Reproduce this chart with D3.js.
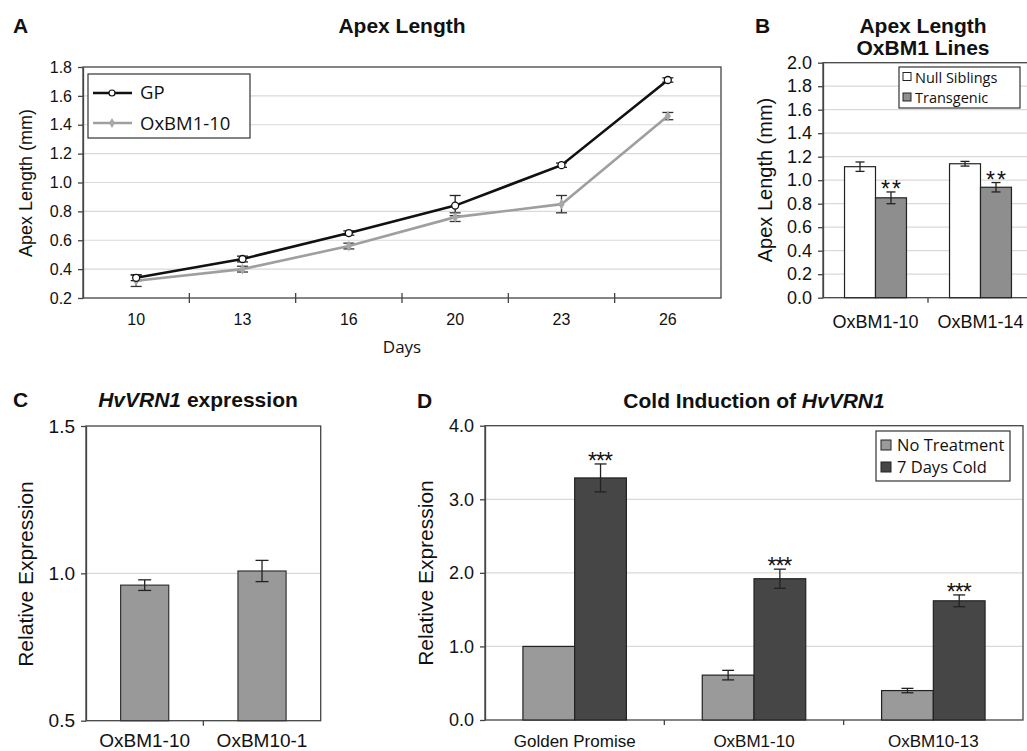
<!DOCTYPE html>
<html>
<head>
<meta charset="utf-8">
<script src="https://cdn.jsdelivr.net/npm/d3@7"></script>
<style>
    body { margin: 0; background: #fff; }
    svg text { font-family: "Liberation Sans", Arial, sans-serif; fill: #111; }
    svg text.soft { font-family: "Open Sans", "Noto Sans", sans-serif; }
</style>
</head>
<body>
<svg id="figure" width="1027" height="751"></svg>
<script>
// Panel A: apex length over time
const days = ["10", "13", "16", "20", "23", "26"];
const gpLength = [0.34, 0.47, 0.65, 0.84, 1.12, 1.71];
const gpError = [0.02, 0.02, 0.015, 0.07, 0.015, 0.015];
const oxLength = [0.32, 0.40, 0.56, 0.76, 0.85, 1.46];
const oxError = [0.04, 0.02, 0.02, 0.03, 0.06, 0.025];
const apexTicks = [0.2, 0.4, 0.6, 0.8, 1.0, 1.2, 1.4, 1.6, 1.8];

// Panel B: apex length for OxBM1 lines
const bLines = ["OxBM1-10", "OxBM1-14"];
const nullSiblings = [1.115, 1.14];
const nullError = [0.04, 0.02];
const transgenic = [0.85, 0.94];
const transgenicError = [0.05, 0.04];
const bTicks = [0, 0.2, 0.4, 0.6, 0.8, 1.0, 1.2, 1.4, 1.6, 1.8, 2.0];

// Panel C: HvVRN1 expression
const cLines = ["OxBM1-10", "OxBM10-1"];
const cExpression = [0.96, 1.008];
const cError = [0.018, 0.036];
const cTicks = [0.5, 1.0, 1.5];

// Panel D: cold induction of HvVRN1
const dLines = ["Golden Promise", "OxBM1-10", "OxBM10-13"];
const noTreatment = [1.0, 0.61, 0.40];
const noTreatmentError = [0, 0.065, 0.03];
const sevenDaysCold = [3.29, 1.92, 1.62];
const sevenDaysColdError = [0.19, 0.13, 0.08];
const dTicks = [0, 1, 2, 3, 4];

const svg = d3.select("#figure");
const axisColor = "#444";
const gridColor = "#d9d9d9";

// ---------- helpers ----------
function drawGrid(g, x, y, values) {
    const [xa, xb] = x.range();
    g.selectAll(null).data(values).enter().append("line")
        .attr("x1", xa).attr("x2", xb)
        .attr("y1", d => y(d)).attr("y2", d => y(d))
        .attr("stroke", gridColor).attr("stroke-width", 1.2);
}

function drawFrame(g, x, y) {
    const [xa, xb] = x.range();
    const [ya, yb] = y.range();
    g.append("rect")
        .attr("x", xa).attr("y", yb)
        .attr("width", xb - xa).attr("height", ya - yb)
        .attr("fill", "none")
        .attr("stroke", axisColor)
        .attr("stroke-width", 1.3);
}

function drawYAxis(g, x, y, values, fontSize) {
    const axis = g.append("g")
        .attr("transform", `translate(${x.range()[0]},0)`)
        .call(d3.axisLeft(y).tickValues(values).tickFormat(d3.format(".1f"))
            .tickSize(5).tickSizeOuter(0).tickPadding(6));
    axis.selectAll("path, line").attr("stroke", axisColor).attr("stroke-width", 1.3);
    axis.selectAll("text").style("font-size", fontSize + "px");
}

function drawXAxis(g, x, y, fontSize, labelY, tickUp) {
    const bottom = y.range()[0];
    const half = (x.step() - x.bandwidth()) / 2;
    g.selectAll(null).data(x.domain().slice(1)).enter().append("line")
        .attr("x1", d => x(d) - half).attr("x2", d => x(d) - half)
        .attr("y1", bottom - tickUp).attr("y2", bottom + 5)
        .attr("stroke", axisColor).attr("stroke-width", 1.3);
    g.selectAll(null).data(x.domain()).enter().append("text")
        .attr("x", d => x(d) + x.bandwidth() / 2)
        .attr("y", labelY)
        .attr("text-anchor", "middle")
        .style("font-size", fontSize + "px")
        .text(d => d);
}

function drawErrorBars(g, xs, y, values, errors, cap, color) {
    values.forEach((v, i) => {
        if (!errors[i]) return;
        const cx = xs[i];
        const top = y(v + errors[i]);
        const bot = y(v - errors[i]);
        g.append("line").attr("x1", cx).attr("x2", cx).attr("y1", top).attr("y2", bot)
            .attr("stroke", color).attr("stroke-width", 1.3);
        [top, bot].forEach(yy => {
            g.append("line").attr("x1", cx - cap / 2).attr("x2", cx + cap / 2)
                .attr("y1", yy).attr("y2", yy)
                .attr("stroke", color).attr("stroke-width", 1.3);
        });
    });
}

function drawStars(g, xs, y, values, errors, label, spacing) {
    values.forEach((v, i) => {
        g.append("text")
            .attr("x", xs[i] + spacing / 2)
            .attr("y", y(v + errors[i]) + 5)
            .attr("text-anchor", "middle")
            .style("font-size", "23px")
            .style("letter-spacing", spacing + "px")
            .text(label);
    });
}

function drawTitle(x, y, parts) {
    const t = svg.append("text")
        .attr("x", x).attr("y", y)
        .attr("text-anchor", "middle")
        .style("font-size", "21px")
        .style("font-weight", "bold");
    parts.forEach(p => {
        t.append("tspan").style("font-style", p.italic ? "italic" : "normal").text(p.text);
    });
}

function drawPanelLetter(x, y, letter) {
    svg.append("text").attr("x", x).attr("y", y)
        .style("font-size", "21px").style("font-weight", "bold").text(letter);
}

function drawYLabel(x, cy, label, fontSize) {
    svg.append("text")
        .attr("transform", `translate(${x},${cy}) rotate(-90)`)
        .attr("text-anchor", "middle")
        .style("font-size", fontSize + "px")
        .text(label);
}

// ---------- Panel A ----------
(function panelA() {
    const g = svg.append("g");
    const x = d3.scaleBand().domain(days).range([83, 721]).padding(0);
    const y = d3.scaleLinear().domain([0.2, 1.8]).range([298, 67]);
    const cx = days.map(d => x(d) + x.bandwidth() / 2);

    drawGrid(g, x, y, apexTicks.slice(1, -1));
    drawFrame(g, x, y);
    drawYAxis(g, x, y, apexTicks, 16);
    drawXAxis(g, x, y, 16, 325, 5);

    const line = d3.line().x((d, i) => cx[i]).y(d => y(d));

    drawErrorBars(g, cx, y, oxLength, oxError, 11, "#333");
    drawErrorBars(g, cx, y, gpLength, gpError, 11, "#222");

    g.append("path").datum(oxLength).attr("d", line)
        .attr("fill", "none").attr("stroke", "#9f9f9f").attr("stroke-width", 2.6);
    g.append("path").datum(gpLength).attr("d", line)
        .attr("fill", "none").attr("stroke", "#111").attr("stroke-width", 2.6);

    g.selectAll(null).data(oxLength).enter().append("path")
        .attr("transform", (d, i) => `translate(${cx[i]},${y(d)})`)
        .attr("d", d3.symbol(d3.symbolDiamond, 34))
        .attr("fill", "#a8a8a8");
    g.selectAll(null).data(gpLength).enter().append("circle")
        .attr("cx", (d, i) => cx[i]).attr("cy", d => y(d)).attr("r", 3.5)
        .attr("fill", "#fff").attr("stroke", "#111").attr("stroke-width", 1.3);

    // legend
    const lg = g.append("g");
    lg.append("rect").attr("x", 88).attr("y", 74).attr("width", 162).attr("height", 64)
        .attr("fill", "#fff").attr("stroke", "#333").attr("stroke-width", 1.2);
    lg.append("line").attr("x1", 93).attr("x2", 132).attr("y1", 93).attr("y2", 93)
        .attr("stroke", "#111").attr("stroke-width", 2.6);
    lg.append("circle").attr("cx", 112).attr("cy", 93).attr("r", 3)
        .attr("fill", "#fff").attr("stroke", "#111").attr("stroke-width", 1.2);
    lg.append("line").attr("x1", 93).attr("x2", 132).attr("y1", 123).attr("y2", 123)
        .attr("stroke", "#9f9f9f").attr("stroke-width", 2.6);
    lg.append("path").attr("transform", "translate(112,123)")
        .attr("d", d3.symbol(d3.symbolDiamond, 30)).attr("fill", "#a8a8a8");
    lg.append("text").attr("class", "soft").attr("x", 140).attr("y", 99)
        .style("font-size", "18.5px").text("GP");
    lg.append("text").attr("class", "soft").attr("x", 140).attr("y", 129.5)
        .style("font-size", "18.5px").text("OxBM1-10");

    svg.append("text").attr("class", "soft")
        .attr("x", 402).attr("y", 353).attr("text-anchor", "middle")
        .style("font-size", "17px").text("Days");
    drawYLabel(32, 183, "Apex Length (mm)", 18);
    drawTitle(402, 33, [{ text: "Apex Length" }]);
    drawPanelLetter(13, 33, "A");
})();

// ---------- Panel B ----------
(function panelB() {
    const g = svg.append("g");
    const x0 = d3.scaleBand().domain(bLines).range([823, 1033])
        .paddingInner(0.41).paddingOuter(0.205);
    const x1 = d3.scaleBand().domain(["null", "trans"]).range([0, x0.bandwidth()]);
    const y = d3.scaleLinear().domain([0, 2]).range([297.7, 62.7]);

    drawGrid(g, x0, y, bTicks.slice(1, -1));
    drawFrame(g, x0, y);

    const series = [
        { key: "null", values: nullSiblings, errors: nullError, fill: "#fff" },
        { key: "trans", values: transgenic, errors: transgenicError, fill: "#8e8e8e" }
    ];
    series.forEach(s => {
        g.selectAll(null).data(bLines).enter().append("rect")
            .attr("x", d => x0(d) + x1(s.key))
            .attr("y", (d, i) => y(s.values[i]))
            .attr("width", x1.bandwidth())
            .attr("height", (d, i) => y(0) - y(s.values[i]))
            .attr("fill", s.fill).attr("stroke", "#222").attr("stroke-width", 1.2);
        const cx = bLines.map(d => x0(d) + x1(s.key) + x1.bandwidth() / 2);
        drawErrorBars(g, cx, y, s.values, s.errors, 9, "#222");
    });
    const tx = bLines.map(d => x0(d) + x1("trans") + x1.bandwidth() / 2);
    drawStars(g, tx, y, transgenic, transgenicError, "**", 2);

    drawYAxis(g, x0, y, bTicks, 18);
    drawXAxis(g, x0, y, 18, 328, 0);

    // legend
    const lg = g.append("g");
    lg.append("rect").attr("x", 899).attr("y", 67).attr("width", 121).attr("height", 41)
        .attr("fill", "#fff").attr("stroke", "#333").attr("stroke-width", 1.2);
    [["Null Siblings", "#fff", 82.5], ["Transgenic", "#8e8e8e", 103]].forEach(([label, fill, by]) => {
        lg.append("rect").attr("x", 903).attr("y", by - 10).attr("width", 8).attr("height", 8)
            .attr("fill", fill).attr("stroke", "#222").attr("stroke-width", 1);
        lg.append("text").attr("class", "soft").attr("x", 915).attr("y", by)
            .style("font-size", "14.5px").text(label);
    });

    drawYLabel(772, 180, "Apex Length (mm)", 20);
    drawTitle(923, 33, [{ text: "Apex Length" }]);
    drawTitle(923, 55, [{ text: "OxBM1 Lines" }]);
    drawPanelLetter(755, 33, "B");
})();

// ---------- Panel C ----------
(function panelC() {
    const g = svg.append("g");
    const x = d3.scaleBand().domain(cLines).range([86, 320.7])
        .paddingInner(0.59).paddingOuter(0.295);
    const y = d3.scaleLinear().domain([0.5, 1.5]).range([720.7, 426]);
    const cx = cLines.map(d => x(d) + x.bandwidth() / 2);

    drawGrid(g, x, y, [1.0]);
    drawFrame(g, x, y);

    g.selectAll(null).data(cExpression).enter().append("rect")
        .attr("x", (d, i) => x(cLines[i]))
        .attr("y", d => y(d))
        .attr("width", x.bandwidth())
        .attr("height", d => y(0.5) - y(d))
        .attr("fill", "#999").attr("stroke", "#333").attr("stroke-width", 1.2);
    drawErrorBars(g, cx, y, cExpression, cError, 13, "#222");

    drawYAxis(g, x, y, cTicks, 19);
    drawXAxis(g, x, y, 19, 747, 0);

    drawYLabel(33, 574, "Relative Expression", 21);
    drawTitle(198, 407, [{ text: "HvVRN1", italic: true }, { text: " expression" }]);
    drawPanelLetter(13, 407, "C");
})();

// ---------- Panel D ----------
(function panelD() {
    const g = svg.append("g");
    const x0 = d3.scaleBand().domain(dLines).range([485, 1023])
        .paddingInner(0.423).paddingOuter(0.2115);
    const x1 = d3.scaleBand().domain(["none", "cold"]).range([0, x0.bandwidth()]);
    const y = d3.scaleLinear().domain([0, 4]).range([720, 425.7]);

    drawGrid(g, x0, y, dTicks.slice(1, -1));
    drawFrame(g, x0, y);

    const series = [
        { key: "none", values: noTreatment, errors: noTreatmentError, fill: "#9a9a9a" },
        { key: "cold", values: sevenDaysCold, errors: sevenDaysColdError, fill: "#464646" }
    ];
    series.forEach(s => {
        g.selectAll(null).data(dLines).enter().append("rect")
            .attr("x", d => x0(d) + x1(s.key))
            .attr("y", (d, i) => y(s.values[i]))
            .attr("width", x1.bandwidth())
            .attr("height", (d, i) => y(0) - y(s.values[i]))
            .attr("fill", s.fill).attr("stroke", "#222").attr("stroke-width", 1.2);
        const cx = dLines.map(d => x0(d) + x1(s.key) + x1.bandwidth() / 2);
        drawErrorBars(g, cx, y, s.values, s.errors, 12, "#222");
    });
    const tx = dLines.map(d => x0(d) + x1("cold") + x1.bandwidth() / 2);
    drawStars(g, tx, y, sevenDaysCold, sevenDaysColdError, "***", -1);

    drawYAxis(g, x0, y, dTicks, 18);
    drawXAxis(g, x0, y, 17, 747, 0);

    // legend
    const lg = g.append("g");
    lg.append("rect").attr("x", 876).attr("y", 431).attr("width", 134).attr("height", 50)
        .attr("fill", "#fff").attr("stroke", "#333").attr("stroke-width", 1.2);
    [["No Treatment", "#9a9a9a", 451], ["7 Days Cold", "#464646", 473]].forEach(([label, fill, by]) => {
        lg.append("rect").attr("x", 881).attr("y", by - 11).attr("width", 10).attr("height", 10)
            .attr("fill", fill).attr("stroke", "#222").attr("stroke-width", 1);
        lg.append("text").attr("class", "soft").attr("x", 897).attr("y", by)
            .style("font-size", "16.5px").text(label);
    });

    drawYLabel(433, 573, "Relative Expression", 21);
    drawTitle(754, 408, [{ text: "Cold Induction of " }, { text: "HvVRN1", italic: true }]);
    drawPanelLetter(417, 408, "D");
})();
</script>
</body>
</html>
